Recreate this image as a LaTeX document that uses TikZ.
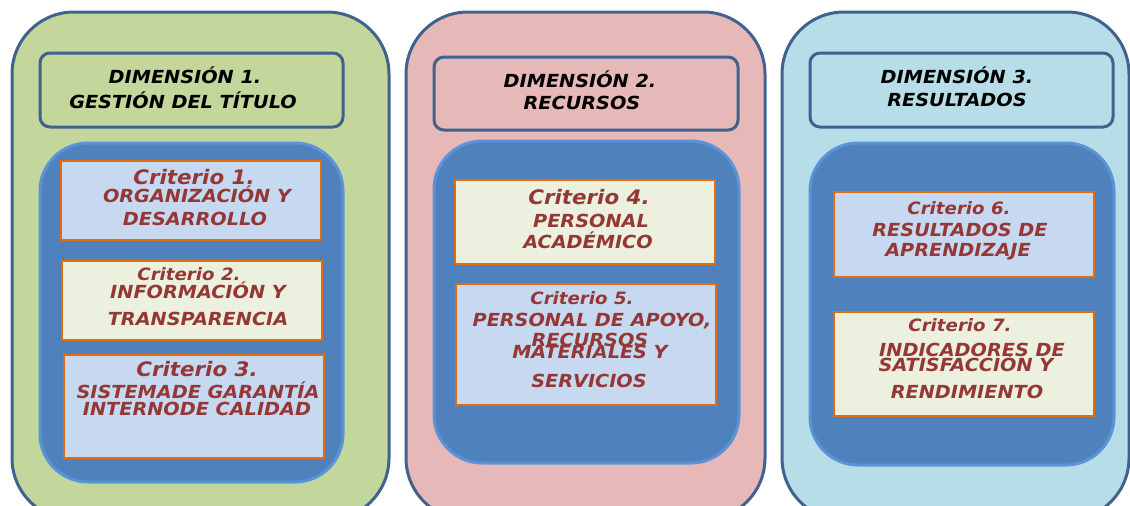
\documentclass[tikz,border=0pt]{standalone}
\usepackage{fontspec}
\setmainfont[FakeStretch=1.07]{DejaVu Sans}
\definecolor{pgreen}{HTML}{C3D69B}
\definecolor{ppink}{HTML}{E6B9B8}
\definecolor{pblue}{HTML}{B7DEE8}
\definecolor{pedge}{HTML}{41618F}
\definecolor{iblue}{HTML}{4F81BD}
\definecolor{iedge}{HTML}{5B93D8}
\definecolor{cblue}{HTML}{C6D9F1}
\definecolor{ccream}{HTML}{EBF1DE}
\definecolor{corange}{HTML}{E46C0A}
\definecolor{cred}{HTML}{953735}
\newcommand{\myfs}[1]{\fontsize{#1}{#1}\selectfont}
\tikzset{
  panel/.style={draw=pedge, line width=3pt, rounded corners=62pt},
  titlebox/.style={draw=pedge, line width=3pt, rounded corners=10pt},
  inner/.style={draw=iedge, fill=iblue, line width=3pt, rounded corners=48pt},
  crit/.style={draw=corange, line width=1.5pt},
  dtext/.style={inner sep=0pt, font=\bfseries\itshape, text=black},
  ctext/.style={inner sep=0pt, font=\bfseries\itshape, text=cred},
}
\begin{document}
\begin{tikzpicture}[x=1pt,y=-1pt]
\useasboundingbox (0,0) rectangle (1130,506);
\clip (0,0) rectangle (1130,506);
% panels
\draw[panel, fill=pgreen] (12,12) rectangle (389,520);
\draw[panel, fill=ppink] (406,12) rectangle (765,520);
\draw[panel, fill=pblue] (782,12) rectangle (1129,520);
% title boxes
\draw[titlebox, fill=pgreen] (40,53) rectangle (343,127);
\draw[titlebox, fill=ppink] (434,57) rectangle (738,130);
\draw[titlebox, fill=pblue] (810,53) rectangle (1113,127);
% inner blue
\draw[inner] (40,143) rectangle (343,482);
\draw[inner] (434,141) rectangle (739,463);
\draw[inner] (810,143) rectangle (1114,465);
% criteria boxes
\draw[crit, fill=cblue] (61,161) rectangle (321,240);
\draw[crit, fill=ccream] (62,261) rectangle (322,340);
\draw[crit, fill=cblue] (64,355) rectangle (324,458);
\draw[crit, fill=ccream] (455,180) rectangle (715,264);
\draw[crit, fill=cblue] (456,284) rectangle (716,405);
\draw[crit, fill=cblue] (834,192) rectangle (1094,277);
\draw[crit, fill=ccream] (834,312) rectangle (1094,416);
% dimension titles
\node[dtext, font=\bfseries\itshape\myfs{18}] (d1a) at (185,75) {DIMENSIÓN 1.};
\node[dtext, font=\bfseries\itshape\myfs{18}] (d1b) at (183,100) {GESTIÓN DEL TÍTULO};
\node[dtext, font=\bfseries\itshape\myfs{18}] (d2a) at (580,79) {DIMENSIÓN 2.};
\node[dtext, font=\bfseries\itshape\myfs{18}] (d2b) at (582,103) {RECURSOS};
\node[dtext, font=\bfseries\itshape\myfs{18}] (d3a) at (957,75) {DIMENSIÓN 3.};
\node[dtext, font=\bfseries\itshape\myfs{18}] (d3b) at (957,100) {RESULTADOS};
% criterion 1
\node[ctext, font=\bfseries\itshape\myfs{20}] (c1a) at (194,177) {Criterio 1.};
\node[ctext, font=\bfseries\itshape\myfs{18}] (c1b) at (197,194) {ORGANIZACIÓN Y};
\node[ctext, font=\bfseries\itshape\myfs{18}] (c1c) at (195,219) {DESARROLLO};
% criterion 2
\node[ctext, font=\bfseries\itshape\myfs{17}] (c2a) at (189,274) {Criterio 2.};
\node[ctext, font=\bfseries\itshape\myfs{18}] (c2b) at (198,290) {INFORMACIÓN Y};
\node[ctext, font=\bfseries\itshape\myfs{18}] (c2c) at (198,319) {TRANSPARENCIA};
% criterion 3
\node[ctext, font=\bfseries\itshape\myfs{20}] (c3a) at (197,369) {Criterio 3.};
\node[ctext, font=\bfseries\itshape\myfs{18}] (c3b) at (198,390) {SISTEMADE GARANTÍA};
\node[ctext, font=\bfseries\itshape\myfs{18}] (c3c) at (197,409) {INTERNODE CALIDAD};
% criterion 4
\node[ctext, font=\bfseries\itshape\myfs{20}] (c4a) at (589,197) {Criterio 4.};
\node[ctext, font=\bfseries\itshape\myfs{18}] (c4b) at (591,221) {PERSONAL};
\node[ctext, font=\bfseries\itshape\myfs{18}] (c4c) at (588,240) {ACADÉMICO};
% criterion 5
\node[ctext, font=\bfseries\itshape\myfs{17}] (c5a) at (582,298) {Criterio 5.};
\node[ctext, font=\bfseries\itshape\myfs{18}] (c5b) at (592,321) {PERSONAL DE APOYO,};
\node[ctext, font=\bfseries\itshape\myfs{18}] (c5c) at (590,340) {RECURSOS};
\node[ctext, font=\bfseries\itshape\myfs{18}] (c5d) at (590,352) {MATERIALES Y};
\node[ctext, font=\bfseries\itshape\myfs{18}] (c5e) at (589,381) {SERVICIOS};
% criterion 6
\node[ctext, font=\bfseries\itshape\myfs{17}] (c6a) at (959,208) {Criterio 6.};
\node[ctext, font=\bfseries\itshape\myfs{18}] (c6b) at (960,230) {RESULTADOS DE};
\node[ctext, font=\bfseries\itshape\myfs{18}] (c6c) at (958,252) {APRENDIZAJE};
% criterion 7
\node[ctext, font=\bfseries\itshape\myfs{17}] (c7a) at (960,325) {Criterio 7.};
\node[ctext, font=\bfseries\itshape\myfs{18}] (c7b) at (972,350) {INDICADORES DE};
\node[ctext, font=\bfseries\itshape\myfs{18}] (c7c) at (966,363) {SATISFACCIÓN Y};
\node[ctext, font=\bfseries\itshape\myfs{18}] (c7d) at (967,392) {RENDIMIENTO};
\end{tikzpicture}
\end{document}
